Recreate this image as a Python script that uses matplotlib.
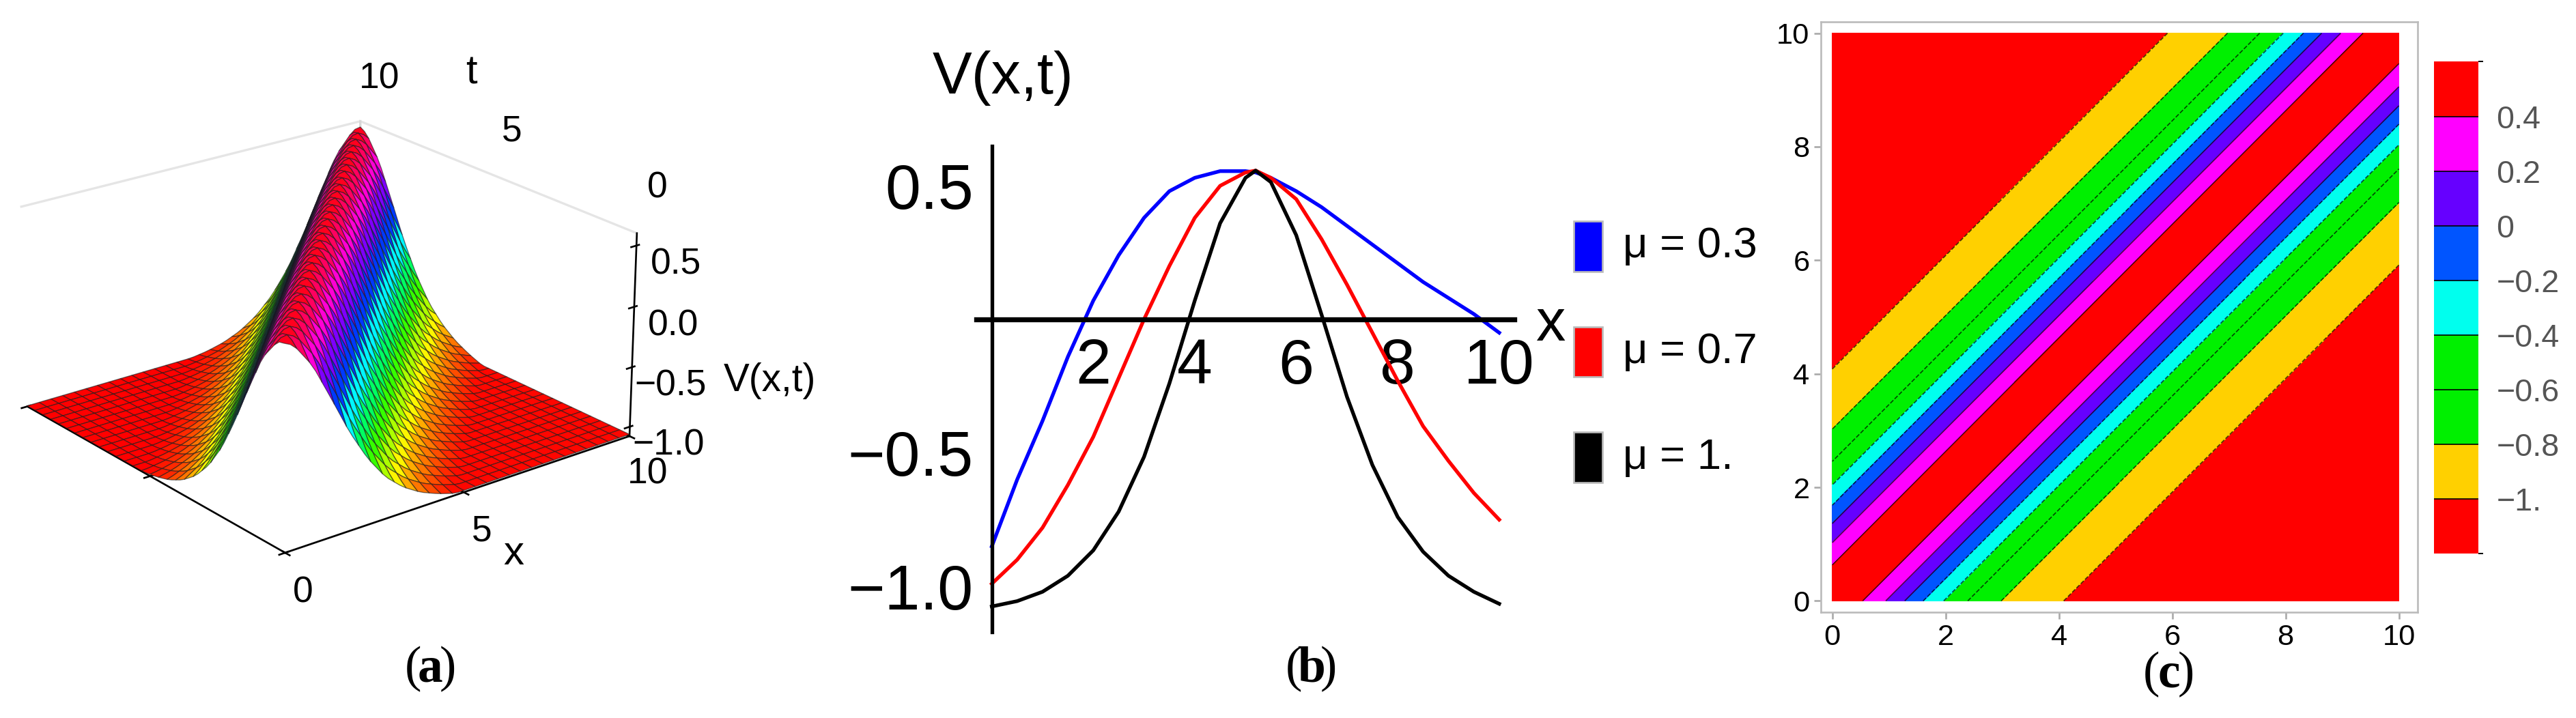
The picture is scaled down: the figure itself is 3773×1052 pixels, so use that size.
import numpy as np
import matplotlib
matplotlib.use("Agg")
import matplotlib.pyplot as plt
from matplotlib.colors import ListedColormap, BoundaryNorm
from matplotlib.patches import Rectangle
from matplotlib.ticker import NullFormatter

plt.rcParams['font.family'] = ['Liberation Sans', 'DejaVu Sans']

xs = [0, 0.5, 1, 1.5, 2, 2.5, 3, 3.5, 4, 4.5, 5, 5.2, 5.5, 6, 6.5, 7, 7.5, 8, 8.5, 9, 9.5, 10]
v_mu03 = [-0.85, -0.6, -0.38, -0.14, 0.07, 0.24, 0.38, 0.48, 0.53, 0.555, 0.555, 0.55, 0.53, 0.48, 0.42, 0.35, 0.28, 0.21, 0.14, 0.08, 0.02, -0.05]
v_mu07 = [-0.99, -0.9, -0.78, -0.62, -0.44, -0.22, 0.0, 0.2, 0.38, 0.5, 0.55, 0.557, 0.53, 0.45, 0.3, 0.13, -0.05, -0.23, -0.4, -0.53, -0.65, -0.75]
v_mu1 = [-1.075, -1.055, -1.02, -0.96, -0.865, -0.72, -0.515, -0.24, 0.07, 0.36, 0.53, 0.557, 0.514, 0.315, 0.017, -0.29, -0.545, -0.74, -0.87, -0.96, -1.02, -1.065]
mu_labels = ["\u03bc = 0.3", "\u03bc = 0.7", "\u03bc = 1."]
line_colors = ["#0000ff", "#ff0000", "#000000"]
peak_shift = 5.25  # profile coordinate at x - t = 0
levels = [-1.2, -1.0, -0.8, -0.6, -0.4, -0.2, 0.0, 0.2, 0.4, 0.6]
level_colors = ["#ff0000", "#ffd000", "#00f000", "#00f000", "#00ffee", "#0055ff", "#6600ff", "#ff00ff", "#ff0000"]
cbar_ticks = [-1.0, -0.8, -0.6, -0.4, -0.2, 0.0, 0.2, 0.4]
cbar_ticklabels = ["\u22121.", "\u22120.8", "\u22120.6", "\u22120.4", "\u22120.2", "0", "0.2", "0.4"]
t_ticks = [0, 5, 10]

fig = plt.figure(figsize=(3773/240, 1052/240), dpi=240)

# ---- (a) 3D surface
ax3 = fig.add_axes([-0.027, 0.10, 0.30, 0.88], projection='3d')
gs = np.linspace(0, 10, 61)
Xs, Ts = np.meshgrid(gs, gs)
Vs = np.interp(Xs - Ts + peak_shift, xs, v_mu1)
norm3 = plt.Normalize(min(v_mu1), max(v_mu1))
fc = plt.cm.hsv(norm3(Vs) * 0.999)
ax3.plot_surface(Xs, Ts, Vs, facecolors=fc, rstride=2, cstride=2,
                 edgecolor=(0.1, 0.1, 0.1, 0.6), linewidth=0.4, shade=False)
ax3.set_xlim(0, 10); ax3.set_ylim(0, 10); ax3.set_zlim(-1.08, 0.6)
ax3.view_init(elev=22, azim=-128)
for a in (ax3.xaxis, ax3.yaxis, ax3.zaxis):
    a.pane.fill = False
    a.pane.set_edgecolor('#cccccc')
ax3.zaxis._axinfo['juggled'] = (1, 2, 0)
ax3.grid(False)
ax3.set_xticks([0, 5, 10]); ax3.set_yticks(t_ticks); ax3.set_zticks([-1.0, -0.5, 0.0, 0.5])
ax3.yaxis.set_major_formatter(NullFormatter())
ax3.set_zticklabels(["\u22121.0", "\u22120.5", "0.0", "0.5"])
ax3.tick_params(labelsize=16, pad=1)
ax3.set_xlabel('x', fontsize=18, labelpad=4)
for tt in t_ticks:
    ax3.text(10.6, tt, 0.78, str(tt), fontsize=16, ha='center', va='bottom')
ax3.text(10.6, 6.5, 1.12, 't', fontsize=18, ha='center', va='bottom')
ax3.set_box_aspect((1, 1, 0.5), zoom=1.0)
fig.text(0.281, 0.47, 'V(x,t)', fontsize=17, ha='left', va='center')

# ---- (b) line plot
axb = fig.add_axes([0.3791, 0.120, 0.2088, 0.677])
for v, c in zip([v_mu03, v_mu07, v_mu1], line_colors):
    axb.plot(xs, v, color=c, lw=1.6)
axb.set_xlim(-0.3, 10.3); axb.set_ylim(-1.17, 0.65)
axb.spines['left'].set_position(('data', 0))
axb.spines['bottom'].set_position(('data', 0))
axb.spines['top'].set_visible(False); axb.spines['right'].set_visible(False)
axb.spines['left'].set_linewidth(1.6); axb.spines['bottom'].set_linewidth(2.2)
axb.set_xticks([2, 4, 6, 8, 10]); axb.set_yticks([-1.0, -0.5, 0.5])
axb.set_yticklabels(["\u22121.0", "\u22120.5", "0.5"])
axb.tick_params(labelsize=28, length=0, pad=8)
fig.text(0.362, 0.891, 'V(x,t)', fontsize=26, ha='left', va='center')
fig.text(0.596, 0.547, 'x', fontsize=26, ha='left', va='center')
for i, (lab, c) in enumerate(zip(mu_labels, line_colors)):
    y = 0.657 - i * 0.147
    fig.patches.append(Rectangle((0.611, y - 0.035), 0.011, 0.070, transform=fig.transFigure,
                                 facecolor=c, edgecolor='#bbbbbb', lw=0.8))
    fig.text(0.630, y, lab, fontsize=19, va='center')

# ---- (c) contour
g = np.linspace(0, 10, 201)
X, T = np.meshgrid(g, g)
V = np.interp(X - T + peak_shift, xs, v_mu1)
axc = fig.add_axes([0.7069, 0.1473, 0.2316, 0.8223])
cmap = ListedColormap(level_colors)
bn = BoundaryNorm(levels, cmap.N)
cf = axc.contourf(X, T, V, levels=levels, cmap=cmap, norm=bn)
axc.contour(X, T, V, levels=levels[1:-1], colors='k', linewidths=0.5, alpha=0.7)
axc.set_xlim(-0.2, 10.33); axc.set_ylim(-0.2, 10.2)
axc.set_xticks([0, 2, 4, 6, 8, 10]); axc.set_yticks([0, 2, 4, 6, 8, 10])
axc.tick_params(labelsize=13, length=3, color='#aaaaaa', pad=2)
for s in axc.spines.values():
    s.set_color('#bbbbbb')
cax = fig.add_axes([0.945, 0.229, 0.017, 0.685])
cb = fig.colorbar(cf, cax=cax, ticks=cbar_ticks, spacing='uniform')
cb.set_ticklabels(cbar_ticklabels)
cb.ax.tick_params(labelsize=14, length=0, colors='#555555', pad=8)
cb.outline.set_visible(False)
cb.add_lines(levels[1:-1], ['k'] * 8, [0.5] * 8)

# panel labels
for x, y, t in [(0.167, 0.068, 'a'), (0.509, 0.068, 'b'), (0.842, 0.060, 'c')]:
    fig.text(x - 0.0035, y, '(', fontsize=22, family='Liberation Serif', ha='right', va='center')
    fig.text(x, y, t, fontsize=22, family='Liberation Serif', weight='bold', ha='center', va='center')
    fig.text(x + 0.0035, y, ')', fontsize=22, family='Liberation Serif', ha='left', va='center')

fig.savefig('out.png', dpi=240)
